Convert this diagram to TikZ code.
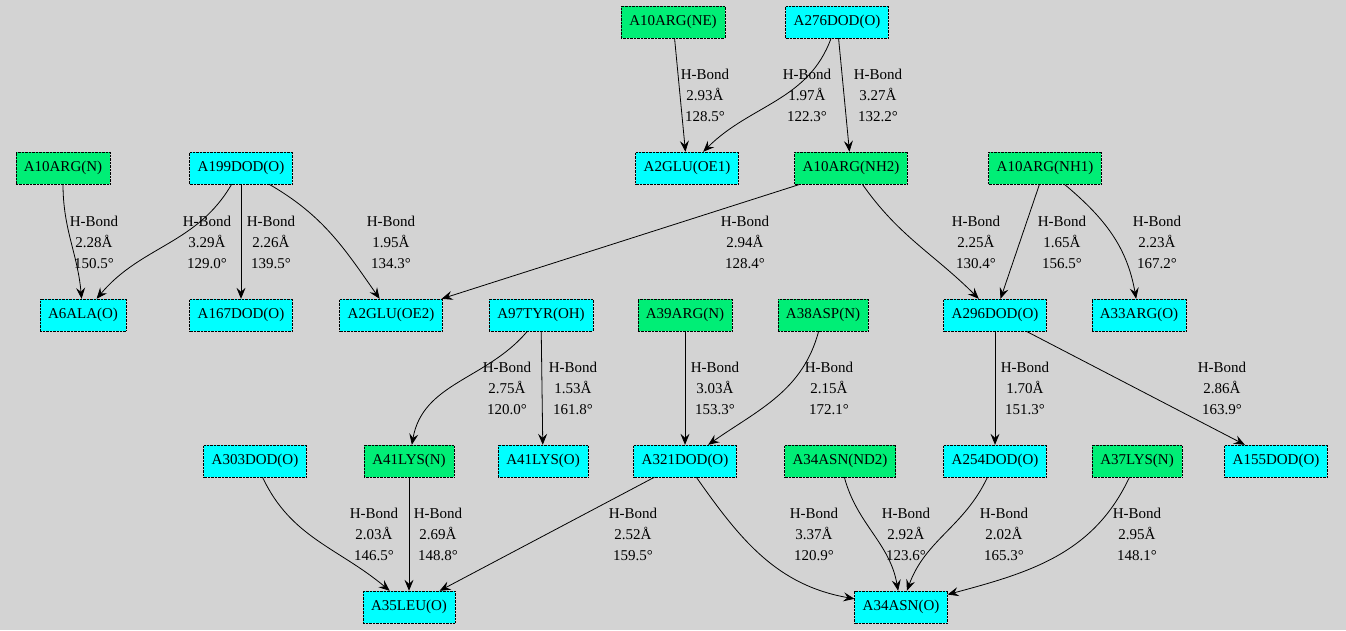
\documentclass[tikz,border=0pt]{standalone}
\usepackage{fontspec}
\setmainfont{Liberation Serif}
\usetikzlibrary{arrows.meta}
\definecolor{bg}{RGB}{211,211,211}
\definecolor{gr}{RGB}{0,238,118}
\definecolor{cy}{RGB}{0,255,255}
\begin{document}
\begin{tikzpicture}[x=1pt,y=1pt,
  nd/.style={draw=black,densely dotted,minimum height=32pt,inner xsep=8pt,font=\fontsize{15}{17}\selectfont},
  c/.style={nd,fill=cy},
  g/.style={nd,fill=gr},
  lb/.style={align=center,font=\fontsize{15}{21}\selectfont},
  e/.style={draw=black,thick,-{Stealth[length=11pt,width=9pt,inset=4pt]}}]
\fill[bg] (0,0) rectangle (1346,-630);
\node[g] (ne) at (673,-22) {A10ARG(NE)};
\node[c] (d276) at (837,-22) {A276DOD(O)};
\node[g] (n10) at (63,-168) {A10ARG(N)};
\node[c] (d199) at (241,-168) {A199DOD(O)};
\node[c] (oe1) at (687,-168) {A2GLU(OE1)};
\node[g] (nh2) at (851,-168) {A10ARG(NH2)};
\node[g] (nh1) at (1045,-168) {A10ARG(NH1)};
\node[c] (ala) at (83,-315) {A6ALA(O)};
\node[c] (d167) at (241,-315) {A167DOD(O)};
\node[c] (oe2) at (391,-315) {A2GLU(OE2)};
\node[c] (tyr) at (541,-315) {A97TYR(OH)};
\node[g] (arg39) at (685,-315) {A39ARG(N)};
\node[g] (asp) at (823,-315) {A38ASP(N)};
\node[c] (d296) at (995,-315) {A296DOD(O)};
\node[c] (arg33) at (1139,-315) {A33ARG(O)};
\node[c] (d303) at (255,-461) {A303DOD(O)};
\node[g] (lysn) at (409,-461) {A41LYS(N)};
\node[c] (lyso) at (543,-461) {A41LYS(O)};
\node[c] (d321) at (685,-461) {A321DOD(O)};
\node[g] (nd2) at (840,-461) {A34ASN(ND2)};
\node[c] (d254) at (995,-461) {A254DOD(O)};
\node[g] (lys37) at (1137,-461) {A37LYS(N)};
\node[c] (d155) at (1276,-461) {A155DOD(O)};
\node[c] (leu) at (409,-607) {A35LEU(O)};
\node[c] (asn) at (901,-607) {A34ASN(O)};

\draw[e] (ne) -- (oe1);
\draw[e] (d276) to[out=-110,in=45] (oe1);
\draw[e] (d276) -- (nh2);
\draw[e] (n10) to[out=-90,in=95] (ala);
\draw[e] (d199) to[out=-120,in=50] (ala);
\draw[e] (d199) -- (d167);
\draw[e] (d199) to[out=-30,in=125] (oe2);
\draw[e] (nh2) -- (oe2);
\draw[e] (nh2) to[out=-55,in=135] (d296);
\draw[e] (nh1) -- (d296);
\draw[e] (nh1) to[out=-40,in=100] (arg33);
\draw[e] (tyr) to[out=-130,in=80] (lysn);
\draw[e] (tyr) -- (lyso);
\draw[e] (arg39) -- (d321);
\draw[e] (asp) to[out=-105,in=35] (d321);
\draw[e] (d296) -- (d254);
\draw[e] (d296) -- (d155);
\draw[e] (d303) to[out=-65,in=140] (leu);
\draw[e] (lysn) -- (leu);
\draw[e] (d321) -- (leu);
\draw[e] (d321) to[out=-55,in=170] (asn);
\draw[e] (nd2) to[out=-75,in=100] (asn);
\draw[e] (d254) to[out=-115,in=70] (asn);
\draw[e] (lys37) to[out=-115,in=15] (asn);

\node[lb] (l1) at (705,-95) {H-Bond\\2.93Å\\128.5°};
\node[lb] (l2) at (807,-95) {H-Bond\\1.97Å\\122.3°};
\node[lb] (l3) at (878,-95) {H-Bond\\3.27Å\\132.2°};
\node[lb] (l4) at (94,-242) {H-Bond\\2.28Å\\150.5°};
\node[lb] (l5) at (207,-242) {H-Bond\\3.29Å\\129.0°};
\node[lb] (l6) at (271,-242) {H-Bond\\2.26Å\\139.5°};
\node[lb] (l7) at (391,-242) {H-Bond\\1.95Å\\134.3°};
\node[lb] (l8) at (745,-242) {H-Bond\\2.94Å\\128.4°};
\node[lb] (l9) at (976,-242) {H-Bond\\2.25Å\\130.4°};
\node[lb] (l10) at (1062,-242) {H-Bond\\1.65Å\\156.5°};
\node[lb] (l11) at (1157,-242) {H-Bond\\2.23Å\\167.2°};
\node[lb] (l12) at (507,-388) {H-Bond\\2.75Å\\120.0°};
\node[lb] (l13) at (573,-388) {H-Bond\\1.53Å\\161.8°};
\node[lb] (l14) at (715,-388) {H-Bond\\3.03Å\\153.3°};
\node[lb] (l15) at (829,-388) {H-Bond\\2.15Å\\172.1°};
\node[lb] (l16) at (1025,-388) {H-Bond\\1.70Å\\151.3°};
\node[lb] (l17) at (1222,-388) {H-Bond\\2.86Å\\163.9°};
\node[lb] (l18) at (374,-534) {H-Bond\\2.03Å\\146.5°};
\node[lb] (l19) at (438,-534) {H-Bond\\2.69Å\\148.8°};
\node[lb] (l20) at (633,-534) {H-Bond\\2.52Å\\159.5°};
\node[lb] (l21) at (814,-534) {H-Bond\\3.37Å\\120.9°};
\node[lb] (l22) at (906,-534) {H-Bond\\2.92Å\\123.6°};
\node[lb] (l23) at (1004,-534) {H-Bond\\2.02Å\\165.3°};
\node[lb] (l24) at (1137,-534) {H-Bond\\2.95Å\\148.1°};
\end{tikzpicture}
\end{document}
